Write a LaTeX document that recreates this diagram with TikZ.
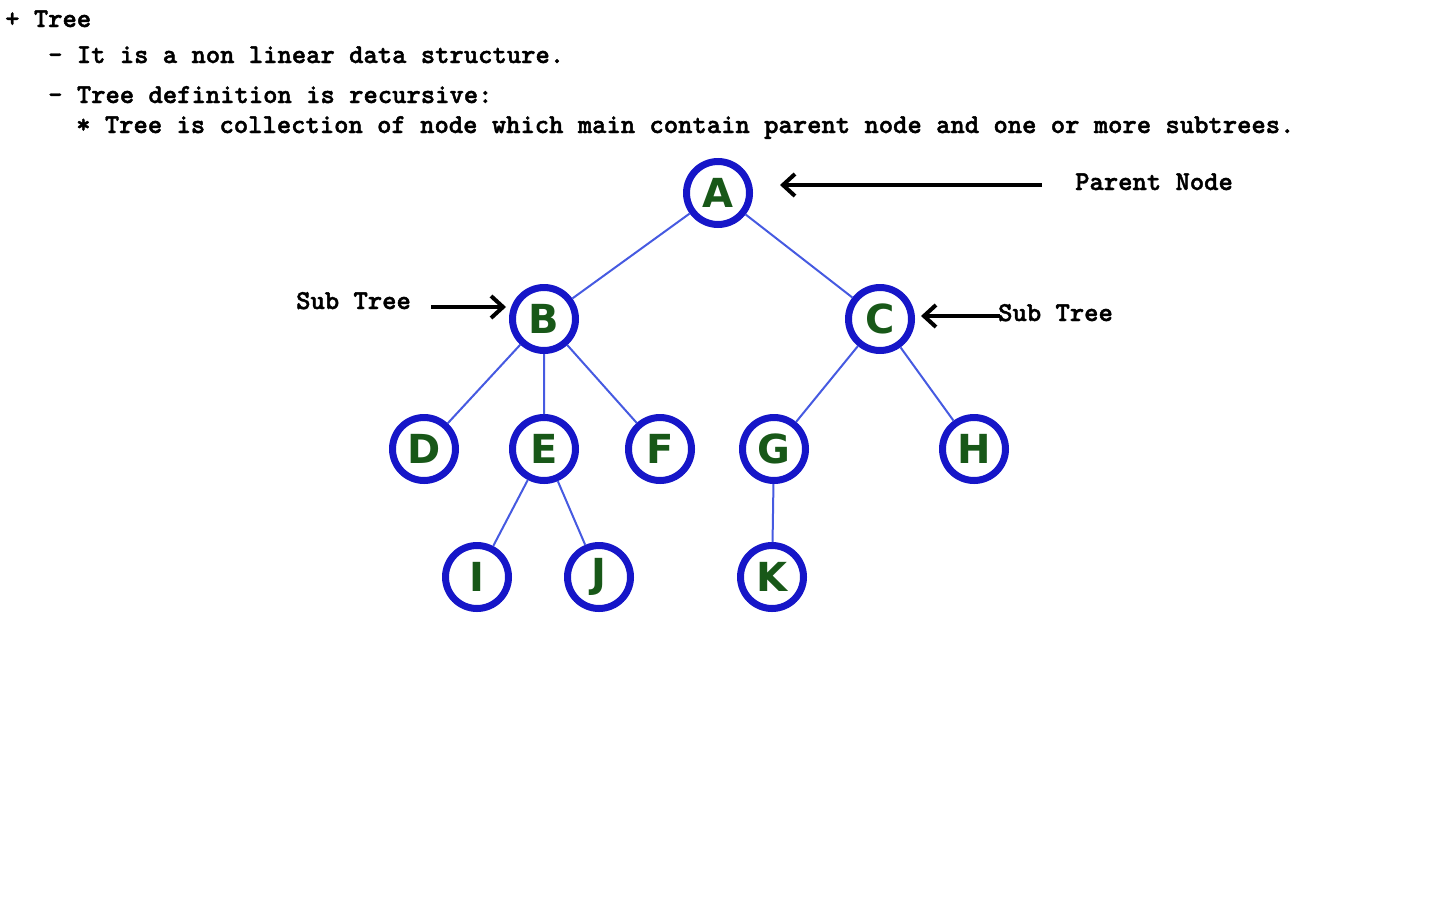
\documentclass[tikz,border=0pt]{standalone}
\usepackage{fontspec}
\setmonofont{lmmonolt10-bold.otf}[FakeBold=1.6]
\newfontfamily\letterfont{DejaVu Sans}
\usepackage{xcolor}
\usepackage{tikz}
\usetikzlibrary{arrows.meta}
\definecolor{ringblue}{RGB}{22,22,200}
\definecolor{edgeblue}{RGB}{70,90,225}
\definecolor{lettergreen}{RGB}{24,88,24}
\tikzset{
  tnode/.style={circle,draw=ringblue,line width=7pt,minimum size=63pt,inner sep=0pt,
    text=lettergreen,font=\letterfont\bfseries\fontsize{40}{40}\selectfont},
  txt/.style={anchor=base west,inner sep=0pt,font=\ttfamily\fontsize{27.3}{30}\selectfont},
  edge/.style={edgeblue,line width=2pt},
  pointer/.style={line width=4pt,-{Straight Barb[length=12pt,width=22pt]}}
}
\begin{document}
\begin{tikzpicture}[x=1pt,y=-1pt]
	\useasboundingbox (0,0) rectangle (1440,900);
	\node[txt] (t1) at (5,27) {+ Tree};
	\node[txt] (t2) at (48,63) {- It is a non linear data structure.};
	\node[txt] (t3) at (48,103) {- Tree definition is recursive:};
	\node[txt] (t4) at (76,133) {* Tree is collection of node which main contain parent node and one or more subtrees.};
	\node[tnode] (A) at (718,193) {A};
	\node[tnode] (B) at (544,319) {B};
	\node[tnode] (C) at (880,319) {C};
	\node[tnode] (D) at (424,449) {D};
	\node[tnode] (E) at (544,449) {E};
	\node[tnode] (F) at (660,449) {F};
	\node[tnode] (G) at (774,449) {G};
	\node[tnode] (H) at (974,449) {H};
	\node[tnode] (I) at (477,577) {I};
	\node[tnode] (J) at (599,577) {J};
	\node[tnode] (K) at (772,577) {K};
	\draw[edge] (A)--(B) (A)--(C);
	\draw[edge] (B)--(D) (B)--(E) (B)--(F);
	\draw[edge] (C)--(G) (C)--(H);
	\draw[edge] (E)--(I) (E)--(J);
	\draw[edge] (G)--(K);
	\node[txt] (parent) at (1075,190) {Parent Node};
	\node[txt] (subl) at (296,309) {Sub Tree};
	\node[txt] (subr) at (998,321) {Sub Tree};
	\coordinate (pa) at (1042,185);
	\coordinate (pb) at (780,185);
	\coordinate (sla) at (431,307);
	\coordinate (slb) at (506,307);
	\coordinate (sra) at (1000,316);
	\coordinate (srb) at (921,316);
	\draw[pointer] (pa)--(pb);
	\draw[pointer] (sla)--(slb);
	\draw[pointer] (sra)--(srb);
\end{tikzpicture}
\end{document}
